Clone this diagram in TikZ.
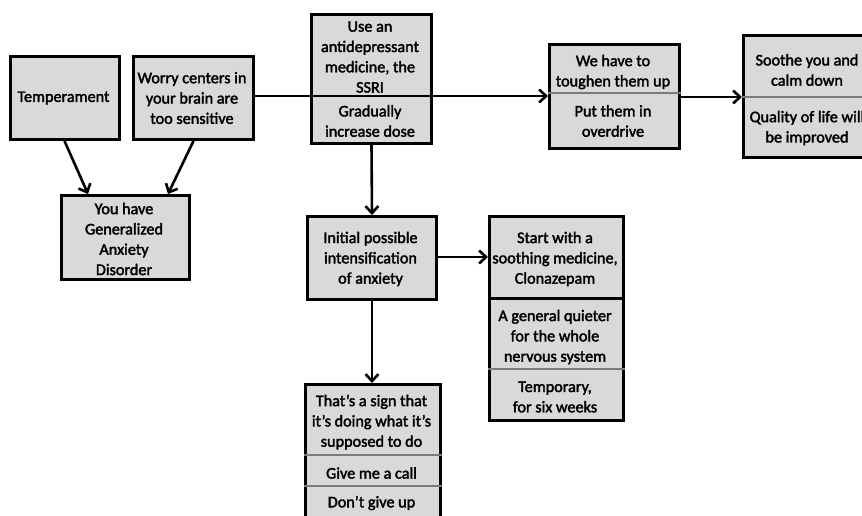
\documentclass[tikz,border=0pt]{standalone}
\usepackage{fontspec}
\setmainfont{Carlito}
\newfontfamily\boxfont{Carlito}[FakeBold=2.2]
\usetikzlibrary{arrows.meta}
\definecolor{boxfill}{HTML}{D9D9D9}
\definecolor{divgray}{HTML}{7A7A7A}
\tikzset{
  box/.style={draw=black, line width=3pt, fill=boxfill, inner sep=0pt, anchor=north west},
  txt/.style={align=center, font=\fontsize{16.2}{20.3}\selectfont\boxfont, inner sep=0pt},
  divider/.style={draw=divgray, line width=1.4pt},
  strongdiv/.style={draw=black, line width=3pt},
  conn/.style={draw=black, line width=2.6pt, -{Straight Barb[length=7pt, width=13pt, line width=2.6pt]}}
}
\newcommand{\mkbox}[5]{% name, x1, y1, x2, y2
  \node[box, minimum width={(#4-#2)*1pt}, minimum height={(#5-#3)*1pt}] (#1) at (#2,#3) {};}
\begin{document}
\begin{tikzpicture}[x=1pt, y=-1pt]
\useasboundingbox (0,0) rectangle (862,515);
\clip (0,0) rectangle (862,515);
\fill[white] (0,0) rectangle (862,515);

% boxes
\mkbox{temp}{9}{55}{118}{138}
\mkbox{worry}{132}{55}{252}{138}
\mkbox{gad}{60}{194}{188}{278}
\mkbox{ssri}{310}{13}{430}{142}
\mkbox{we}{548}{43}{678}{147}
\mkbox{soothe}{742}{34}{885}{156}
\mkbox{init}{306}{215}{435}{298}
\mkbox{start}{488}{215}{622}{419}
\mkbox{sign}{304}{383}{439}{540}

% dividers
\draw[divider] (we.west |- 0,93) -- (we.east |- 0,93);
\draw[divider] (soothe.west |- 0,97) -- (soothe.east |- 0,97);
\draw[strongdiv] (start.west |- 0,298) -- (start.east |- 0,298);
\draw[divider] (start.west |- 0,369) -- (start.east |- 0,369);
\draw[divider] (sign.west |- 0,455) -- (sign.east |- 0,455);
\draw[divider] (sign.west |- 0,486) -- (sign.east |- 0,486);

% texts
\node[txt] (ttemp) at (63.5,98) {Temperament};
\node[txt] (tworry) at (192,98) {Worry centers in\\your brain are\\too sensitive};
\node[txt] (tgad) at (124,239) {You have\\Generalized\\Anxiety\\Disorder};
\node[txt] (tssri1) at (370,57) {Use an\\antidepressant\\medicine, the\\SSRI};
\node[txt] (tssri2) at (370,121) {Gradually\\increase dose};
\node[txt] (twe1) at (613,72) {We have to\\toughen them up};
\node[txt] (twe2) at (613,121) {Put them in\\overdrive};
\node[txt] (tso1) at (807,70) {Soothe you and\\calm down};
\node[txt] (tso2) at (807,128) {Quality of life will\\be improved};
\node[txt] (tinit) at (370.5,259) {Initial possible\\intensification\\of anxiety};
\node[txt] (tst1) at (555,259) {Start with a\\soothing medicine,\\Clonazepam};
\node[txt] (tst2) at (555,337) {A general quieter\\for the whole\\nervous system};
\node[txt] (tst3) at (555,397) {Temporary,\\for six weeks};
\node[txt] (tsg1) at (371.5,422) {That’s a sign that\\it’s doing what it’s\\supposed to do};
\node[txt] (tsg2) at (371.5,473) {Give me a call};
\node[txt] (tsg3) at (371.5,503) {Don’t give up};

% connectors
\draw[conn] ([xshift=-0.5pt]temp.south) -- ([xshift=28pt]gad.north west);
\draw[conn] (worry.south) -- ([xshift=-23pt]gad.north east);
\draw[conn] (worry.east |- 0,96) -- (we.west |- 0,96);
\draw[conn] (we.east |- 0,97) -- (soothe.west |- 0,97);
\draw[conn] (ssri.south) -- (init.north);
\draw[conn] (init.east |- 0,257) -- (start.west |- 0,257);
\draw[conn] (init.south) -- (sign.north -| init.south);
\end{tikzpicture}
\end{document}
